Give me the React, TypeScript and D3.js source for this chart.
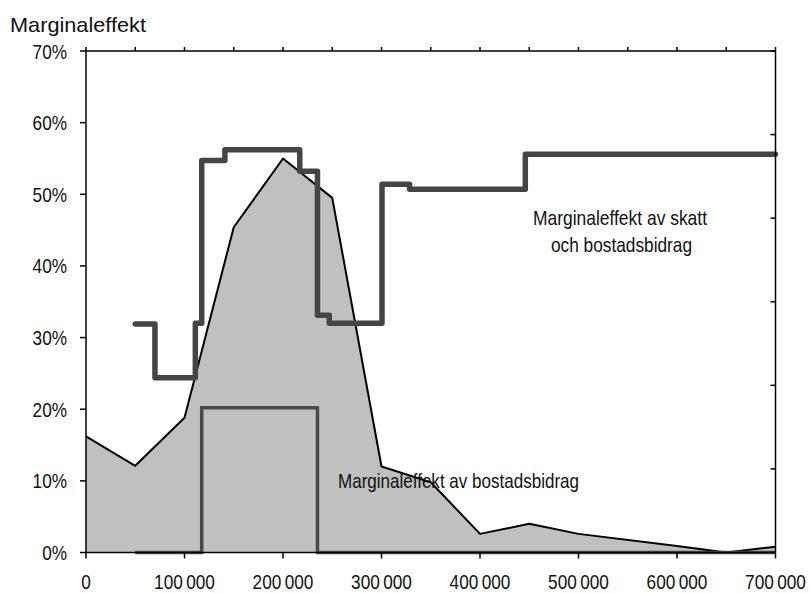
import * as d3 from 'd3';

// income (kr) and marginal effect (%)
const areaIncome = [0, 50000, 100000, 150000, 200000, 250000, 300000, 350000, 400000, 450000, 500000, 600000, 650000, 700000];
const areaRate = [16.2, 12.1, 18.8, 45.4, 55.0, 49.5, 12.0, 9.8, 2.6, 4.0, 2.6, 0.9, 0, 0.8];

const totalIncome = [50000, 70000, 70000, 111000, 111000, 117500, 117500, 141000, 141000, 217000, 217000, 235000, 235000, 247000, 247000, 300500, 300500, 328500, 328500, 446000, 446000, 700000];
const totalRate = [31.9, 31.9, 24.4, 24.4, 32.0, 32.0, 54.7, 54.7, 56.2, 56.2, 53.2, 53.2, 33.1, 33.1, 32.0, 32.0, 51.4, 51.4, 50.7, 50.7, 55.6, 55.6];

const bidragIncome = [50000, 117500, 117500, 235000, 235000, 700000];
const bidragRate = [0, 0, 20.2, 20.2, 0, 0];

const xTicks = [0, 100000, 200000, 300000, 400000, 500000, 600000, 700000];
const xTopTicks = d3.range(0, 700001, 50000);
const yTicks = [0, 10, 20, 30, 40, 50, 60, 70];
const rightTicks = [0, 1, 2, 3, 4, 5, 6];

const W = 810;
const H = 593;
const left = 86;
const right = 775.5;
const top = 51;
const bottom = 552.5;

const font = '"Liberation Sans", Arial, sans-serif';
const narrow = 0.82;

const fmt = (v: number) => (v === 0 ? '0' : d3.format(',')(v).replace(/,/g, '\u2009'));

// condensed text: regular sans squeezed horizontally
function NText({
  x,
  y,
  anchor = 'start',
  size = 21,
  dy,
  children,
}: {
  x: number;
  y: number;
  anchor?: 'start' | 'middle' | 'end';
  size?: number;
  dy?: string;
  children: React.ReactNode;
}) {
  return (
    <text
      transform={`translate(${x},${y}) scale(${narrow},1)`}
      textAnchor={anchor}
      fontSize={size}
      dy={dy}
      fill="#111"
    >
      {children}
    </text>
  );
}

export default function App() {
  const x = d3.scaleLinear().domain([0, 700000]).range([left, right]);
  const y = d3.scaleLinear().domain([0, 70]).range([bottom, top]);
  const yR = d3.scaleLinear().domain([0, 6]).range([bottom, top]);

  const area = d3
    .area<number>()
    .x((_, i) => x(areaIncome[i]))
    .y0(y(0))
    .y1((d) => y(d));
  const areaLine = d3
    .line<number>()
    .x((_, i) => x(areaIncome[i]))
    .y((d) => y(d));
  const totalLine = d3
    .line<number>()
    .x((_, i) => x(totalIncome[i]))
    .y((d) => y(d));
  const bidragLine = d3
    .line<number>()
    .x((_, i) => x(bidragIncome[i]))
    .y((d) => y(d));

  return (
    <svg
      width={W}
      height={H}
      style={{ position: 'absolute', left: 0, top: 0, display: 'block', background: '#fff' }}
      fontFamily={font}
    >
      <text x={10} y={32} fontSize={21} fill="#111" textLength={136} lengthAdjust="spacingAndGlyphs">
        Marginaleffekt
      </text>

      <path d={area(areaRate) ?? ''} fill="#c0c0c0" />
      <path d={areaLine(areaRate) ?? ''} fill="none" stroke="#000" strokeWidth={2} strokeLinejoin="round" />

      <text x={338} y={488} fontSize={21} fill="#111" textLength={241} lengthAdjust="spacingAndGlyphs">
        Marginaleffekt av bostadsbidrag
      </text>
      <text x={533} y={225} fontSize={21} fill="#111" textLength={174} lengthAdjust="spacingAndGlyphs">
        Marginaleffekt av skatt
      </text>
      <text x={551} y={252} fontSize={21} fill="#111" textLength={141} lengthAdjust="spacingAndGlyphs">
        och bostadsbidrag
      </text>

      <path d={bidragLine(bidragRate) ?? ''} fill="none" stroke="#4a4a4a" strokeWidth={3.5} />
      <path
        d={totalLine(totalRate) ?? ''}
        fill="none"
        stroke="#454545"
        strokeWidth={5.5}
        strokeLinejoin="round"
        strokeLinecap="round"
      />

      {/* frame */}
      <g stroke="#000" strokeWidth={1.5} fill="none">
        <line x1={left} x2={right} y1={bottom} y2={bottom} />
        <line x1={left} x2={right} y1={top} y2={top} />
        <line x1={left} x2={left} y1={top} y2={bottom} />
        <line x1={right} x2={right} y1={top} y2={bottom} />
        {xTicks.map((t) => (
          <line key={'xb' + t} x1={x(t)} x2={x(t)} y1={bottom} y2={bottom + 6} />
        ))}
        {xTopTicks.map((t) => (
          <line key={'xt' + t} x1={x(t)} x2={x(t)} y1={top} y2={top - 4} />
        ))}
        {yTicks.map((t) => (
          <line key={'yl' + t} x1={left - 6} x2={left} y1={y(t)} y2={y(t)} />
        ))}
        {rightTicks.map((t) => (
          <line key={'yr' + t} x1={right - 5} x2={right} y1={yR(t)} y2={yR(t)} />
        ))}
      </g>

      {yTicks.map((t) => (
        <NText key={'yt' + t} x={67} y={y(t)} dy="0.36em" anchor="end">
          {t}%
        </NText>
      ))}
      {xTicks.map((t) => (
        <NText key={'xl' + t} x={x(t)} y={589} anchor="middle">
          {fmt(t)}
        </NText>
      ))}
    </svg>
  );
}
